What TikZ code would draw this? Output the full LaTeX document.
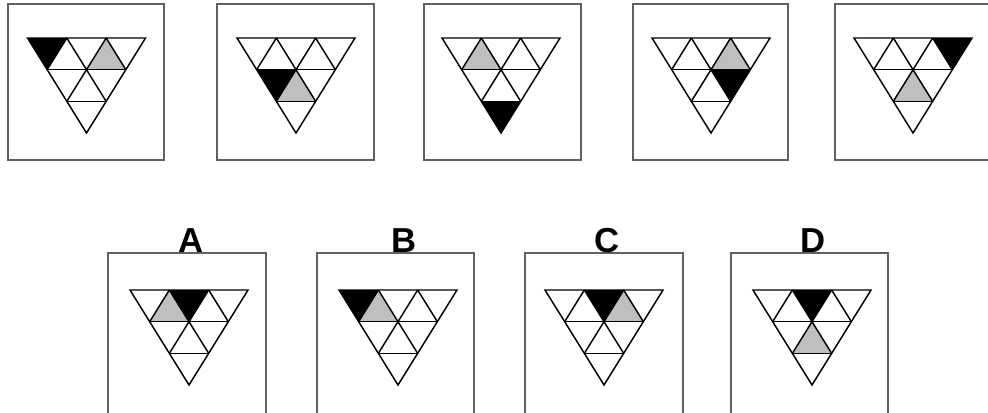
\documentclass[tikz,border=0pt]{standalone}
\usepackage{fontspec}
\setmainfont{Liberation Sans}
\tikzset{
  panelbox/.style={draw=black!62, line width=1.5pt},
  gridline/.style={draw=black, line width=1.1pt, line join=miter},
  darkcell/.style={fill=black},
  greycell/.style={fill=black!25},
  letter/.style={font=\bfseries\fontsize{26}{26}\selectfont, anchor=base, inner sep=0pt}
}
% down-pointing cell: row #1, index #2, style #3
\newcommand\cellDn[3]{\path[#3] ({#1/2+#2},#1) -- ({#1/2+#2+1},#1) -- ({#1/2+#2+0.5},{#1+1}) -- cycle;}
% up-pointing cell
\newcommand\cellUp[3]{\path[#3] ({#1/2+#2+1},#1) -- ({#1/2+#2+1.5},{#1+1}) -- ({#1/2+#2+0.5},{#1+1}) -- cycle;}
\newcommand\trigrid{%
  \draw[gridline] (0,0) -- (3,0) -- (1.5,3) -- cycle;
  \draw[gridline] (0.5,1) -- (2.5,1) (1,2) -- (2,2);
  \draw[gridline] (1,0) -- (2,2) (2,0) -- (2.5,1);
  \draw[gridline] (2,0) -- (1,2) (1,0) -- (0.5,1);
}
\begin{document}
\begin{tikzpicture}[x=0.75pt,y=-0.75pt]
\useasboundingbox (0,0) rectangle (988,412);
\clip (0,0) rectangle (988,412);

% ---- top row boxes ----
\draw[panelbox] (8,4) rectangle (164,160);
\draw[panelbox] (217,4) rectangle (374,160);
\draw[panelbox] (424,4) rectangle (581,160);
\draw[panelbox] (633,4) rectangle (788,160);
\draw[panelbox] (835,4) rectangle (991,160);

% ---- bottom row boxes ----
\draw[panelbox] (108,253) rectangle (266,430);
\draw[panelbox] (317,253) rectangle (474,430);
\draw[panelbox] (525,253) rectangle (683,430);
\draw[panelbox] (731,253) rectangle (888,430);

% ---- labels ----
\node[letter] (labA) at (191,252) {A};
\node[letter] (labB) at (404,252) {B};
\node[letter] (labC) at (607,252) {C};
\node[letter] (labD) at (813,252) {D};

% ---- triangles: top row ----
\begin{scope}[shift={(27.5,38)}, x=29.5pt, y=-23.75pt]
  \cellDn{0}{0}{darkcell}\cellUp{0}{1}{greycell}\trigrid
\end{scope}
\begin{scope}[shift={(237,38)}, x=29.5pt, y=-23.75pt]
  \cellDn{1}{0}{darkcell}\cellUp{1}{0}{greycell}\trigrid
\end{scope}
\begin{scope}[shift={(442,38)}, x=29.5pt, y=-23.75pt]
  \cellUp{0}{0}{greycell}\cellDn{2}{0}{darkcell}\trigrid
\end{scope}
\begin{scope}[shift={(652,38)}, x=29.5pt, y=-23.75pt]
  \cellUp{0}{1}{greycell}\cellDn{1}{1}{darkcell}\trigrid
\end{scope}
\begin{scope}[shift={(854,38)}, x=29.5pt, y=-23.75pt]
  \cellDn{0}{2}{darkcell}\cellUp{1}{0}{greycell}\trigrid
\end{scope}

% ---- triangles: bottom row ----
\begin{scope}[shift={(130,290)}, x=29.5pt, y=-23.75pt]
  \cellDn{0}{1}{darkcell}\cellUp{0}{0}{greycell}\trigrid
\end{scope}
\begin{scope}[shift={(339,290)}, x=29.5pt, y=-23.75pt]
  \cellDn{0}{0}{darkcell}\cellUp{0}{0}{greycell}\trigrid
\end{scope}
\begin{scope}[shift={(545,290)}, x=29.5pt, y=-23.75pt]
  \cellDn{0}{1}{darkcell}\cellUp{0}{1}{greycell}\trigrid
\end{scope}
\begin{scope}[shift={(753,290)}, x=29.5pt, y=-23.75pt]
  \cellDn{0}{1}{darkcell}\cellUp{1}{0}{greycell}\trigrid
\end{scope}
\end{tikzpicture}
\end{document}
